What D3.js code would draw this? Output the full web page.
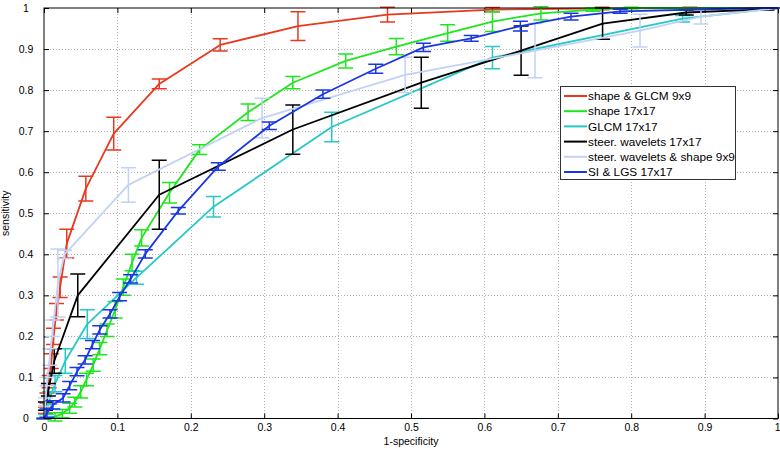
<!DOCTYPE html>
<html>
<head>
<meta charset="utf-8">
<script src="https://cdn.jsdelivr.net/npm/d3@7/dist/d3.min.js"></script>
<style>
  html, body { margin: 0; padding: 0; background: #fff; }
  svg { display: block; }
  text { font-family: "Liberation Sans", Arial, Helvetica, sans-serif; }
</style>
</head>
<body>
<svg id="chart" width="780" height="452"></svg>
<script>
// ---------------- data ----------------
const seriesNames = [
  "shape & GLCM 9x9",
  "shape 17x17",
  "GLCM 17x17",
  "steer. wavelets 17x17",
  "steer. wavelets & shape 9x9",
  "SI & LGS 17x17"
];
const seriesColors = ["#e8391f", "#1ee61e", "#26c8c8", "#000000", "#c2d2f4", "#1a36e4"];

const fprShapeGlcm9 = [0, 0.002, 0.004, 0.007, 0.010, 0.013, 0.017, 0.022, 0.031, 0.057, 0.095, 0.157, 0.240, 0.346, 0.468, 0.611, 0.760, 0.880, 1];
const tprShapeGlcm9 = [0, 0.02, 0.05, 0.09, 0.14, 0.20, 0.26, 0.32, 0.426, 0.56, 0.694, 0.815, 0.91, 0.956, 0.984, 0.996, 0.999, 1, 1];
const errShapeGlcm9 = [0, 0.008, 0.012, 0.015, 0.018, 0.02, 0.02, 0.025, 0.035, 0.03, 0.04, 0.012, 0.015, 0.035, 0.018, 0.005, 0.003, 0.002, 0];

const fprShape17 = [0, 0.015, 0.025, 0.035, 0.042, 0.050, 0.058, 0.067, 0.076, 0.086, 0.097, 0.108, 0.120, 0.133, 0.171, 0.212, 0.278, 0.339, 0.411, 0.480, 0.550, 0.611, 0.677, 0.748, 0.800, 1];
const tprShape17 = [0, 0.004, 0.012, 0.025, 0.04, 0.065, 0.095, 0.13, 0.17, 0.215, 0.265, 0.32, 0.38, 0.44, 0.55, 0.655, 0.746, 0.818, 0.871, 0.906, 0.939, 0.967, 0.987, 0.996, 1, 1];
const errShape17 = [0, 0.01, 0.01, 0.012, 0.012, 0.015, 0.015, 0.015, 0.015, 0.015, 0.02, 0.02, 0.02, 0.02, 0.025, 0.012, 0.02, 0.015, 0.017, 0.02, 0.02, 0.024, 0.016, 0.004, 0.002, 0];

const fprGlcm17 = [0, 0.003, 0.008, 0.015, 0.029, 0.059, 0.126, 0.231, 0.392, 0.611, 0.870, 1];
const tprGlcm17 = [0, 0.02, 0.05, 0.085, 0.14, 0.23, 0.343, 0.516, 0.71, 0.879, 0.974, 1];
const errGlcm17 = [0, 0.01, 0.015, 0.02, 0.03, 0.035, 0.016, 0.025, 0.036, 0.027, 0.008, 0];

const fprSteer17 = [0, 0.002, 0.006, 0.014, 0.046, 0.157, 0.339, 0.514, 0.650, 0.761, 0.875, 0.985, 1];
const tprSteer17 = [0, 0.03, 0.07, 0.14, 0.30, 0.545, 0.704, 0.818, 0.896, 0.962, 0.989, 0.997, 1];
const errSteer17 = [0, 0.01, 0.015, 0.03, 0.052, 0.084, 0.06, 0.062, 0.06, 0.038, 0.006, 0.002, 0];

const fprSteerShape9 = [0, 0.002, 0.004, 0.008, 0.012, 0.019, 0.028, 0.115, 0.297, 0.492, 0.669, 0.812, 0.895, 1];
const tprSteerShape9 = [0, 0.04, 0.09, 0.15, 0.22, 0.33, 0.40, 0.569, 0.732, 0.837, 0.896, 0.945, 0.979, 1];
const errSteerShape9 = [0, 0.01, 0.01, 0.02, 0.02, 0.083, 0.01, 0.042, 0.048, 0.043, 0.066, 0.04, 0.018, 0];

const fprSiLgs17 = [0, 0.004, 0.012, 0.026, 0.035, 0.045, 0.056, 0.066, 0.076, 0.090, 0.103, 0.118, 0.138, 0.183, 0.2375, 0.307, 0.380, 0.452, 0.517, 0.582, 0.649, 0.718, 0.785, 0.980, 1];
const tprSiLgs17 = [0, 0.013, 0.033, 0.05, 0.08, 0.114, 0.143, 0.18, 0.216, 0.255, 0.297, 0.34, 0.401, 0.506, 0.614, 0.713, 0.79, 0.852, 0.904, 0.926, 0.956, 0.979, 0.992, 1, 1];
const errSiLgs17 = [0, 0.01, 0.01, 0.01, 0.01, 0.01, 0.01, 0.01, 0.01, 0.01, 0.01, 0.01, 0.01, 0.008, 0.009, 0.009, 0.01, 0.011, 0.01, 0.007, 0.012, 0.008, 0.005, 0, 0];

const xTicks = [0, 0.1, 0.2, 0.3, 0.4, 0.5, 0.6, 0.7, 0.8, 0.9, 1];
const yTicks = [0, 0.1, 0.2, 0.3, 0.4, 0.5, 0.6, 0.7, 0.8, 0.9, 1];
const xTickLabels = ["0", "0.1", "0.2", "0.3", "0.4", "0.5", "0.6", "0.7", "0.8", "0.9", "1"];
const yTickLabels = ["0", "0.1", "0.2", "0.3", "0.4", "0.5", "0.6", "0.7", "0.8", "0.9", "1"];
const xLabel = "1-specificity";
const yLabel = "sensitivity";

// ---------------- build series ----------------
const fprs = [fprShapeGlcm9, fprShape17, fprGlcm17, fprSteer17, fprSteerShape9, fprSiLgs17];
const tprs = [tprShapeGlcm9, tprShape17, tprGlcm17, tprSteer17, tprSteerShape9, tprSiLgs17];
const errs = [errShapeGlcm9, errShape17, errGlcm17, errSteer17, errSteerShape9, errSiLgs17];
const series = seriesNames.map((name, i) => ({
  name, color: seriesColors[i],
  points: fprs[i].map((x, j) => ({ x, y: tprs[i][j], e: errs[i][j] }))
}));

// ---------------- layout ----------------
const svg = d3.select("#chart");
const plot = { left: 44, right: 778, top: 8, bottom: 418.5 };
const x = d3.scaleLinear().domain([0, 1]).range([plot.left, plot.right]);
const y = d3.scaleLinear().domain([0, 1]).range([plot.bottom, plot.top]);

svg.append("rect").attr("x", 0).attr("y", 0).attr("width", 780).attr("height", 452).attr("fill", "#fff");

// grid
const grid = svg.append("g").attr("stroke", "#b4b4b4").attr("stroke-width", 1).attr("stroke-dasharray", "1,2");
grid.selectAll("line.gx").data(xTicks.slice(1, -1)).join("line")
  .attr("x1", d => Math.round(x(d)) + 0.5).attr("x2", d => Math.round(x(d)) + 0.5)
  .attr("y1", plot.top).attr("y2", plot.bottom);
grid.selectAll("line.gy").data(yTicks.slice(1, -1)).join("line")
  .attr("y1", d => Math.round(y(d)) + 0.5).attr("y2", d => Math.round(y(d)) + 0.5)
  .attr("x1", plot.left).attr("x2", plot.right);

// axes (ticks inside, MATLAB style)
const xAxis = d3.axisBottom(x).tickValues(xTicks).tickFormat((d, i) => xTickLabels[i]).tickSizeInner(-5).tickSizeOuter(0).tickPadding(5);
const yAxis = d3.axisLeft(y).tickValues(yTicks).tickFormat((d, i) => yTickLabels[i]).tickSizeInner(-5).tickSizeOuter(0).tickPadding(12);
const xAxisTop = d3.axisTop(x).tickValues(xTicks).tickFormat("").tickSizeInner(-5).tickSizeOuter(0);
const yAxisRight = d3.axisRight(y).tickValues(yTicks).tickFormat("").tickSizeInner(-5).tickSizeOuter(0);

function styleAxis(g) {
  g.select(".domain").remove();
  g.selectAll(".tick line").attr("stroke", "#000");
  g.selectAll(".tick text").attr("fill", "#000").attr("font-size", 10.5)
    .attr("font-family", "'Liberation Sans', Arial, sans-serif");
}
const gx = svg.append("g").attr("transform", `translate(0,${plot.bottom})`).call(xAxis).call(styleAxis);
gx.selectAll(".tick text").filter((d, i) => i === xTicks.length - 1).attr("text-anchor", "end").attr("x", 2);
svg.append("g").attr("transform", `translate(${plot.left},0)`).call(yAxis).call(styleAxis)
  .selectAll(".tick text").attr("text-anchor", "middle").attr("x", -18);
svg.append("g").attr("transform", `translate(0,${plot.top})`).call(xAxisTop).call(styleAxis);
svg.append("g").attr("transform", `translate(${plot.right},0)`).call(yAxisRight).call(styleAxis);

// series lines + error bars
const line = d3.line().x(d => x(d.x)).y(d => y(d.y));
const capHalf = 7.5;
series.forEach(s => {
  const g = svg.append("g");
  g.append("path").datum(s.points).attr("d", line)
    .attr("fill", "none").attr("stroke", s.color).attr("stroke-width", 1.8).attr("stroke-linejoin", "round");
  const eb = g.append("g").attr("stroke", s.color).attr("stroke-width", 1.5).attr("fill", "none");
  eb.selectAll("path").data(s.points).join("path")
    .attr("d", d => {
      const cx = x(d.x), y0 = y(d.y - d.e), y1 = y(d.y + d.e);
      return `M${cx},${y0}V${y1}M${cx - capHalf},${y0}H${cx + capHalf}M${cx - capHalf},${y1}H${cx + capHalf}`;
    });
});

// frame
svg.append("rect").attr("x", plot.left).attr("y", plot.top)
  .attr("width", plot.right - plot.left).attr("height", plot.bottom - plot.top)
  .attr("fill", "none").attr("stroke", "#000").attr("stroke-width", 1);

// axis labels
svg.append("text").attr("x", (plot.left + plot.right) / 2).attr("y", 445)
  .attr("text-anchor", "middle").attr("font-size", 10.5).attr("fill", "#000").text(xLabel);
svg.append("text").attr("transform", `translate(9,${(plot.top + plot.bottom) / 2}) rotate(-90)`)
  .attr("text-anchor", "middle").attr("font-size", 10.5).attr("fill", "#000").text(yLabel);

// legend
const leg = svg.append("g");
leg.append("rect").attr("x", 560.5).attr("y", 86.5).attr("width", 175).attr("height", 93)
  .attr("fill", "#fff").attr("stroke", "#333").attr("stroke-width", 1);
series.forEach((s, i) => {
  const ly = 96 + i * 15.2;
  leg.append("line").attr("x1", 564).attr("x2", 587).attr("y1", ly).attr("y2", ly)
    .attr("stroke", s.color).attr("stroke-width", 2);
  leg.append("text").attr("x", 588).attr("y", ly).attr("dy", "0.35em")
    .attr("font-size", 11.8).attr("fill", "#000").text(s.name);
});
</script>
</body>
</html>
